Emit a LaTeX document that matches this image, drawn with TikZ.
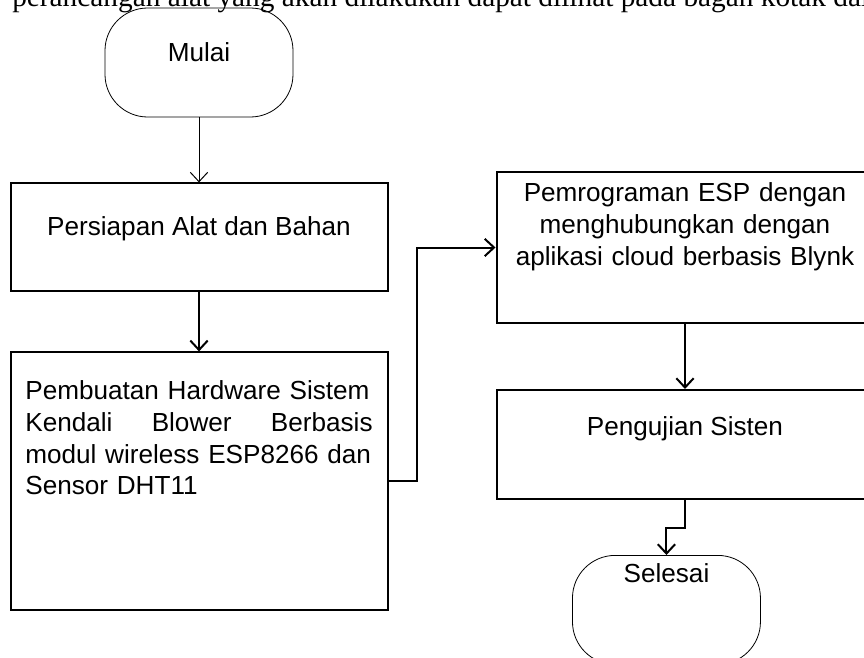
\documentclass[tikz,border=0pt]{standalone}
\usepackage{fontspec}
\newfontfamily\arialfont{Liberation Sans}
\newfontfamily\bodyfont{Liberation Serif}
\usetikzlibrary{arrows.meta, positioning}

\begin{document}
\begin{tikzpicture}[x=0.75pt, y=-0.75pt,
    >={Straight Barb[length=7pt, width=13pt]},
    every node/.style={font=\arialfont\fontsize{19.6}{23.8}\selectfont},
    term/.style={draw, line width=0.6pt, rounded corners=32pt,
                 minimum width=141pt, minimum height=81.75pt},
    proc/.style={draw, line width=1.5pt, minimum width=282.75pt},
    flow/.style={->, line width=1.5pt}]
  \useasboundingbox (0,0) rectangle (864,657);
  \clip (0,0) rectangle (864,657);

  % line of the page text above the chart, cut by the crop
  \node[anchor=base west, inner sep=0pt,
        font=\bodyfont\fontsize{22}{26}\selectfont] (teks) at (12,6)
    {perancangan alat yang akan dilakukan dapat dilihat pada bagan kotak dalam};

  \node[term, text depth=15pt] (mulai) at (199,62.5) {Mulai};
  \node[proc, minimum height=81pt, text depth=17pt,
        below=48.75pt of mulai] (siap) {Persiapan Alat dan Bahan};
  \node[proc, minimum height=193.5pt, text width=260.5pt, inner xsep=11pt,
        align=left, text depth=137pt, below=44.25pt of siap] (hw)
    {Pembuatan Hardware Sistem\\
     Kendali\hfill Blower\hfill Berbasis\\
     modul wireless ESP8266 dan\\
     Sensor DHT11};
  \node[proc, minimum height=113.25pt, text width=262pt, align=center,
        text depth=83pt] (esp) at (685,247.5)
    {Pemrograman ESP dengan\\
     menghubungkan dengan\\
     aplikasi cloud berbasis Blynk};
  \node[proc, minimum height=81.75pt, text depth=27pt,
        below=48.75pt of esp] (uji) {Pengujian Sisten};
  \node[term, text depth=56pt, below=41.25pt of uji, xshift=-13.9pt]
    (selesai) {Selesai};

  \draw[->, line width=0.75pt] (mulai) -- (siap);
  \draw[flow] (siap) -- (hw);
  \draw[flow] (hw.east) -- ++(28,0) |- (esp.west);
  \draw[flow] (esp) -- (uji);
  \draw[flow] (uji.south) -- ++(0,28) -| (selesai.north);
\end{tikzpicture}
\end{document}
